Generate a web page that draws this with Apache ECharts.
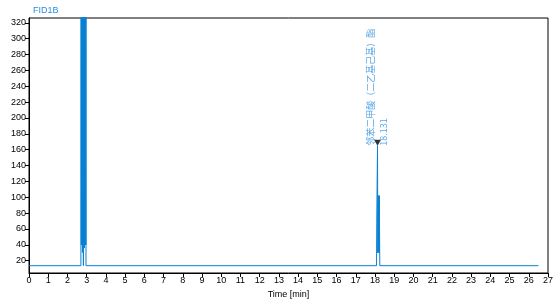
<!DOCTYPE html>
<html>
<head>
<meta charset="utf-8">
<script src="https://cdn.jsdelivr.net/npm/echarts@6/dist/echarts.min.js"></script>
<style>html,body{margin:0;padding:0;background:#fff}#c{width:554px;height:299px}</style>
</head>
<body>
<div id="c"></div>
<script>
// Signal trace (time in min, signal in pA); off-scale values exceed the top of the plot
const baselineStart = [[0, 13.7], [2.50, 13.7], [2.52, 15.5], [2.56, 15.5], [2.58, 13.7]];
const solventPeak = [[2.700, 13.7], [2.712, 1000], [2.725, 40], [2.737, 1000], [2.750, 40],
  [2.762, 1000], [2.780, 30.5], [2.792, 1000], [2.805, 40], [2.817, 1000], [2.830, 13.7],
  [2.842, 1000], [2.855, 40], [2.867, 1000], [2.880, 36], [2.892, 1000], [2.905, 40],
  [2.917, 1000], [2.930, 40], [2.942, 1000], [2.955, 40], [2.960, 1000], [2.965, 13.7]];
const middleBaseline = [[3.0, 13.7], [18.08, 13.7]];
const analytePeak = [[18.09, 68], [18.131, 165], [18.145, 30], [18.16, 102], [18.175, 30],
  [18.19, 102], [18.21, 30], [18.225, 102], [18.25, 13.7]];
const endBaseline = [[18.30, 13.7], [26.5, 13.7]];
const peakLabel = { name: '邻苯二甲酸（二乙基己基）酯', time: 18.131, height: 165 };
const yTicks = [20, 40, 60, 80, 100, 120, 140, 160, 180, 200, 220, 240, 260, 280, 300, 320];
const signalName = 'FID1B';

const trace = [].concat(baselineStart, solventPeak, middleBaseline, analytePeak, endBaseline);
const blue = '#0a82d2';
const font = 'Liberation Sans, Arial, sans-serif';

const chart = echarts.init(document.getElementById('c'), null, { renderer: 'canvas' });
chart.setOption({
  animation: false,
  title: {
    text: signalName, left: 28, top: 1,
    textStyle: { color: '#2a8ee0', fontSize: 9, fontWeight: 'normal', fontFamily: font }
  },
  grid: { left: 29, right: 6, top: 18, bottom: 26, show: true, borderColor: '#000', borderWidth: 1,
    containLabel: false, outerBoundsMode: 'none' },
  xAxis: {
    type: 'value', min: 0, max: 27, interval: 1,
    name: 'Time [min]', nameLocation: 'middle', nameGap: 14,
    nameTextStyle: { color: '#000', fontSize: 9, fontFamily: font },
    axisLine: { lineStyle: { color: '#000', width: 1 } },
    axisTick: { length: 4, lineStyle: { color: '#000' } },
    axisLabel: { color: '#000', fontSize: 9, fontFamily: font, margin: 3 },
    splitLine: { show: false }
  },
  yAxis: {
    type: 'value', min: 4.5, max: 326,
    name: 'pA', nameLocation: 'middle', nameGap: 22,
    nameTextStyle: { color: '#000', fontSize: 9, fontFamily: font },
    axisLine: { show: true, lineStyle: { color: '#000', width: 1 } },
    axisTick: { show: true, length: 4, lineStyle: { color: '#000' }, customValues: yTicks },
    axisLabel: { color: '#000', fontSize: 9, fontFamily: font, margin: 3, customValues: yTicks },
    splitLine: { show: false }
  },
  series: [
    {
      type: 'line', data: trace, showSymbol: false, symbol: 'none',
      lineStyle: { color: blue, width: 1 }, clip: true, silent: true
    },
    {
      type: 'scatter',
      data: [[peakLabel.time, peakLabel.height]],
      symbol: 'triangle', symbolRotate: 180, symbolSize: [7, 6], symbolOffset: [0, -3],
      itemStyle: { color: '#000' },
      label: {
        show: true, position: 'top', distance: -6, rotate: 90,
        align: 'left', verticalAlign: 'middle',
        formatter: () => peakLabel.name + '\n' + peakLabel.time.toFixed(3),
        color: '#2a8ee0', fontSize: 9, lineHeight: 13,
        fontFamily: 'Noto Sans CJK SC, Liberation Sans, sans-serif'
      },
      silent: true
    }
  ]
});
</script>
</body>
</html>
